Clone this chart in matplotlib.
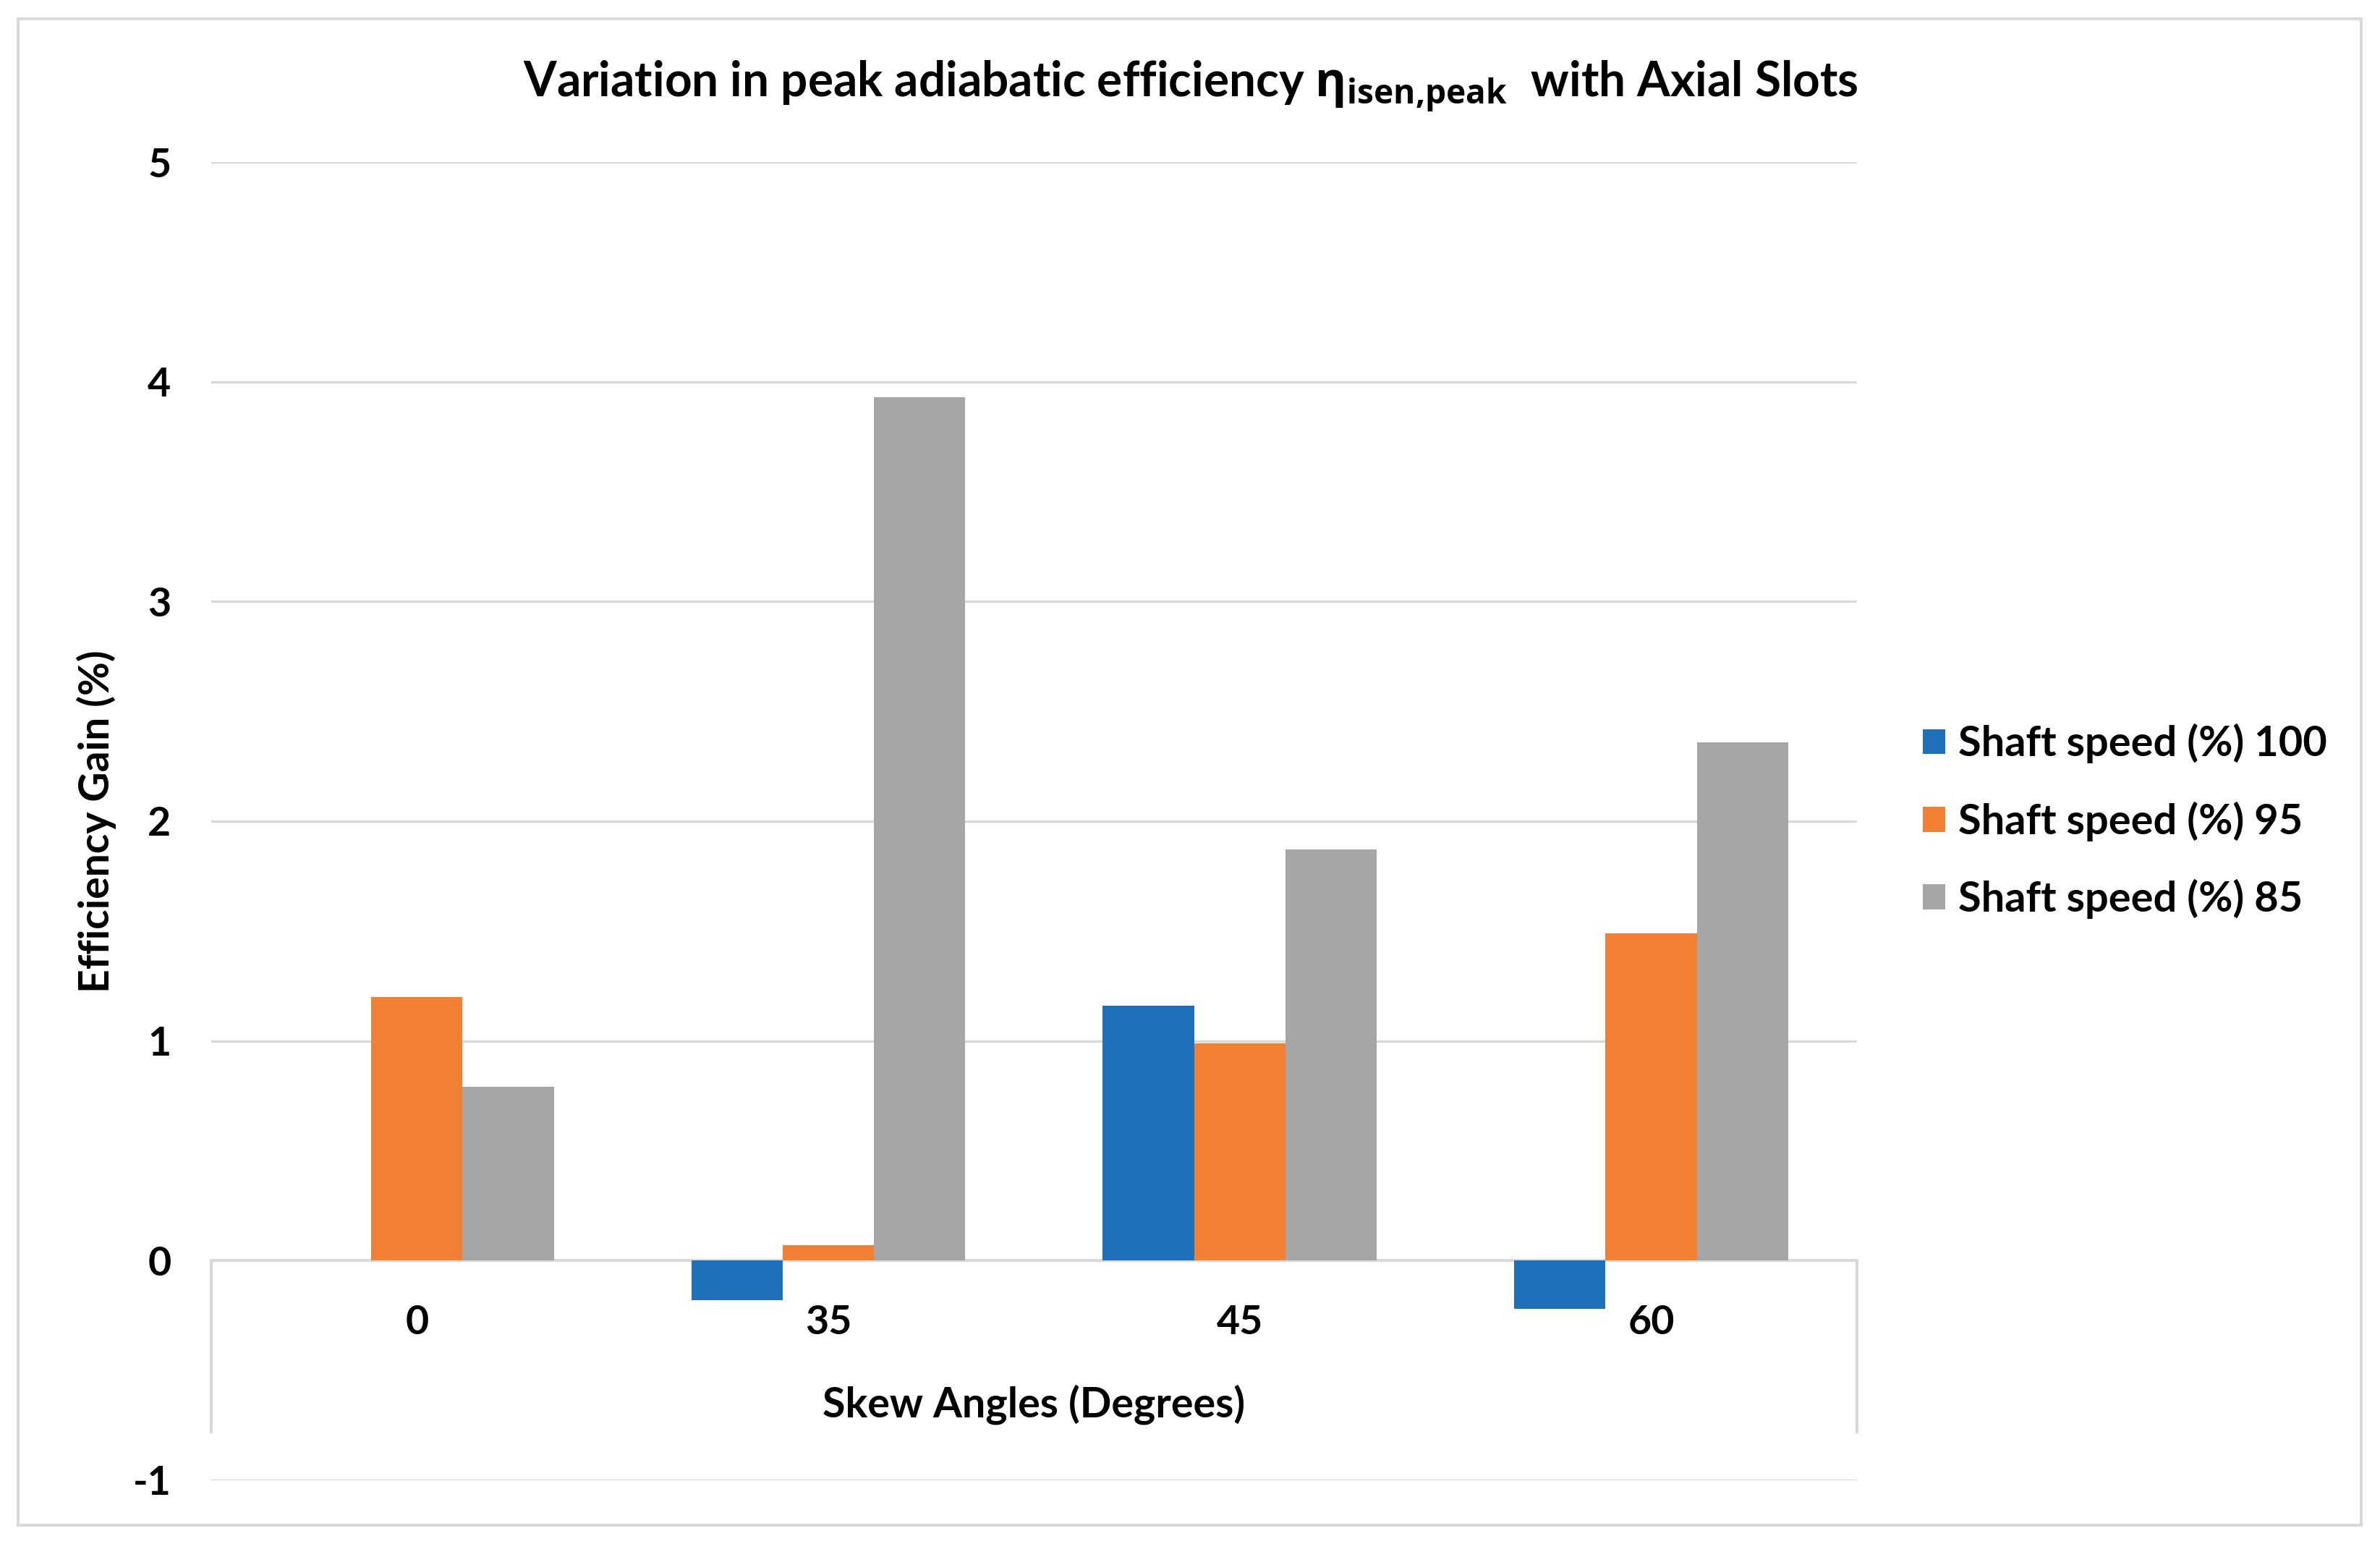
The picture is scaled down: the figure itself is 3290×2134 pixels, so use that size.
import numpy as np
import matplotlib
matplotlib.use('Agg')
import matplotlib.pyplot as plt
from matplotlib.patches import Rectangle

# data
angles = ['0', '35', '45', '60']
series_names = ['Shaft speed (%) 100', 'Shaft speed (%) 95', 'Shaft speed (%) 85']
speed_100 = [0.0, -0.18, 1.16, -0.22]
speed_95 = [1.20, 0.07, 0.99, 1.49]
speed_85 = [0.79, 3.93, 1.87, 2.36]
colors = ['#1F70B8', '#F28034', '#A6A6A6']
y_ticks = [-1, 0, 1, 2, 3, 4, 5]

plt.rcParams['font.family'] = ['Lato', 'DejaVu Sans']
plt.rcParams['font.weight'] = 'bold'
plt.rcParams['mathtext.fontset'] = 'custom'
plt.rcParams['mathtext.bf'] = 'Open Sans:bold'
plt.rcParams['mathtext.rm'] = 'Open Sans:bold'
plt.rcParams['mathtext.fallback'] = 'stixsans'

grid_col = '#D9D9D9'

fig = plt.figure(figsize=(16.455, 10.67), dpi=200)
ax = fig.add_axes([0.0887, 0.0413, 0.78 - 0.0887, 0.895 - 0.0413])

# outer chart border
fig.patches.append(Rectangle((0.0077, 0.012), 0.984, 0.976, transform=fig.transFigure,
                             fill=False, edgecolor=grid_col, linewidth=1.5))

x = np.arange(len(angles))
width = 0.222
for i, (vals, name) in enumerate(zip([speed_100, speed_95, speed_85], series_names)):
    ax.bar(x + (i - 1) * width, vals, width, color=colors[i], label=name, zorder=3)

ax.set_xlim(-0.5, 3.5)
ax.set_ylim(-1, 5)
ax.set_yticks(y_ticks)
ax.set_yticklabels([str(t) for t in y_ticks])
ax.yaxis.grid(True, color=grid_col, linewidth=1.2, zorder=0)
for s in ['top', 'right', 'left']:
    ax.spines[s].set_visible(False)
ax.spines['bottom'].set_position(('data', 0))
ax.spines['bottom'].set_color(grid_col)
ax.spines['bottom'].set_linewidth(1.5)
ax.spines['bottom'].set_zorder(2)
ax.set_xticks(x)
ax.set_xticklabels(angles)
ax.tick_params(axis='x', length=0, pad=22, labelsize=20)
ax.tick_params(axis='y', length=0, pad=20, labelsize=20)

# box below the category axis
ax.plot([-0.5, -0.5], [0, -0.78], color=grid_col, linewidth=1.5, zorder=1, clip_on=False)
ax.plot([3.5, 3.5], [0, -0.78], color=grid_col, linewidth=1.5, zorder=1, clip_on=False)

ax.text(0.5, 0.0576, 'Skew Angles (Degrees)', transform=ax.transAxes,
        ha='center', va='center', fontsize=20.7, fontweight='bold')
ax.set_ylabel('Efficiency Gain (%)', fontsize=20.5, fontweight='bold', labelpad=8)

fig.text(0.5, 0.944, r'Variation in peak adiabatic efficiency $\mathbf{\eta_{isen{,}peak}}$  with Axial Slots',
         ha='center', va='center', fontsize=23.7, fontweight='bold')

ax.legend(loc='center left', bbox_to_anchor=(1.017, 0.5), frameon=False, fontsize=20.8,
          handlelength=0.55, handleheight=0.55, handletextpad=0.3, labelspacing=0.9)

fig.savefig('out.png', dpi=200)
